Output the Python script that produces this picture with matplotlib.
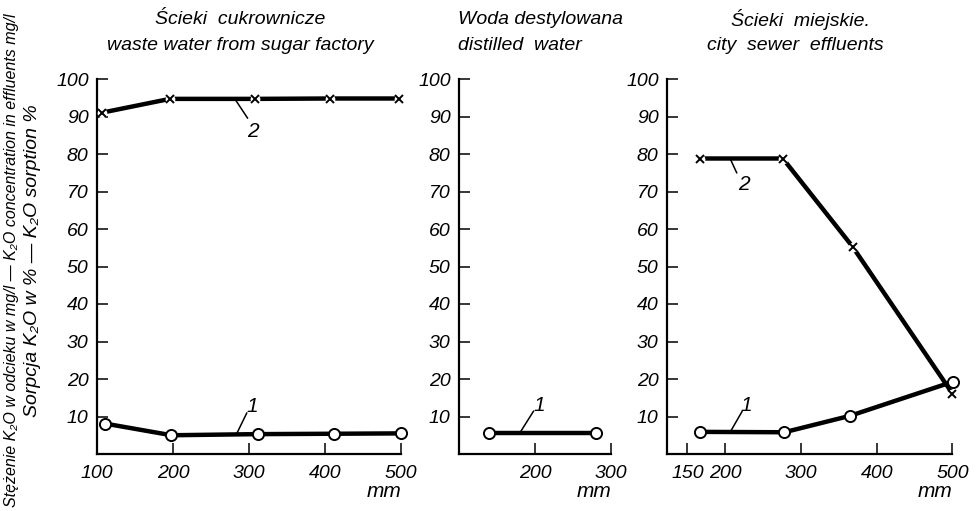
import matplotlib
matplotlib.use("Agg")
import matplotlib.pyplot as plt

plt.rcParams['font.family'] = ['Liberation Sans', 'DejaVu Sans']
plt.rcParams['font.style'] = 'italic'

# sugar factory waste water
sugar_x1 = [111, 198, 312, 412, 500]
sugar_y1 = [8.1, 5.0, 5.3, 5.4, 5.5]
sugar_x2 = [106, 196, 308, 407, 498]
sugar_y2 = [91.0, 94.7, 94.7, 94.8, 94.8]

# distilled water
dist_x1 = [139, 280]
dist_y1 = [5.7, 5.7]

# city sewer effluents
city_x1 = [166, 278, 365, 501]
city_y1 = [5.9, 5.8, 10.2, 19.3]
city_x2 = [166, 276, 368, 500]
city_y2 = [78.8, 78.8, 55.3, 16.1]

yticks = [10, 20, 30, 40, 50, 60, 70, 80, 90, 100]

fig = plt.figure(figsize=(9.78, 5.11), dpi=100)

bottom = 1 - 454 / 511
height = (454 - 79) / 511
ax1 = fig.add_axes([97 / 978, bottom, 304 / 978, height])
ax2 = fig.add_axes([459 / 978, bottom, 152 / 978, height])
ax3 = fig.add_axes([667 / 978, bottom, 285.5 / 978, height])


def style(ax, xlim, xticks):
    ax.set_xlim(*xlim)
    ax.set_ylim(0, 100)
    for s in ['top', 'right']:
        ax.spines[s].set_visible(False)
    for s in ['left', 'bottom']:
        ax.spines[s].set_linewidth(1.6)
    ax.set_yticks(yticks)
    ax.set_xticks(xticks)
    ax.tick_params(direction='in', length=8, width=1.1, labelsize=14, pad=6)
    ax.tick_params(axis='x', pad=8)
    ax.text(xlim[1], -10, 'mm', fontsize=15, ha='right', va='center')


def series1(ax, x, y):
    ax.plot(x, y, color='black', lw=3.2, solid_capstyle='butt',
            marker='o', ms=8, mfc='white', mec='black', mew=1.4, zorder=3,
            clip_on=False)


def series2(ax, x, y):
    ax.plot(x, y, color='black', lw=3.2, solid_capstyle='butt', zorder=3,
            clip_on=False)
    ax.plot(x, y, ls='none', marker='o', ms=7, mfc='white', mec='none',
            zorder=4, clip_on=False)
    ax.plot(x, y, ls='none', marker='x', ms=6, mec='black', mew=1.4,
            zorder=5, clip_on=False)


def label(ax, txt, start, end, pos):
    ax.plot([start[0], end[0]], [start[1], end[1]], color='black', lw=1.1, zorder=6)
    ax.text(pos[0], pos[1], txt, fontsize=15, ha='center', va='center')


style(ax1, (100, 500), [100, 200, 300, 400, 500])
series1(ax1, sugar_x1, sugar_y1)
series2(ax1, sugar_x2, sugar_y2)
label(ax1, '2', (282, 94.5), (298, 89.6), (305, 86))
label(ax1, '1', (284, 5.5), (297, 10.9), (304, 12.6))

style(ax2, (100, 300), [200, 300])
series1(ax2, dist_x1, dist_y1)
label(ax2, '1', (180.6, 5.8), (198, 11.4), (205, 13.0))

style(ax3, (123, 500), [150, 200, 300, 400, 500])
series1(ax3, city_x1, city_y1)
series2(ax3, city_x2, city_y2)
label(ax3, '1', (206.6, 5.9), (222, 11.3), (228, 13.0))
label(ax3, '2', (207, 78.5), (215, 75), (224, 72.0))

fig.text(240 / 978, 1 - 20 / 511, 'Ścieki  cukrownicze', fontsize=14, ha='center', va='center')
fig.text(240 / 978, 1 - 46 / 511, 'waste water from sugar factory', fontsize=14, ha='center', va='center')
fig.text(458 / 978, 1 - 20 / 511, 'Woda destylowana', fontsize=14, ha='left', va='center')
fig.text(458 / 978, 1 - 46 / 511, 'distilled  water', fontsize=14, ha='left', va='center')
fig.text(800 / 978, 1 - 20 / 511, 'Ścieki  miejskie.', fontsize=14, ha='center', va='center')
fig.text(795 / 978, 1 - 46 / 511, 'city  sewer  effluents', fontsize=14, ha='center', va='center')

fig.text(12 / 978, 1 - 260 / 511,
         'Stężenie K₂O w odcieku w mg/l — K₂O concentration in effluents mg/l',
         fontsize=11.5, rotation=90, ha='center', va='center')
fig.text(33 / 978, 1 - 261 / 511,
         'Sorpcja K₂O w % — K₂O sorption %',
         fontsize=14, rotation=90, ha='center', va='center')

fig.savefig('out.png', dpi=100, facecolor='white')
